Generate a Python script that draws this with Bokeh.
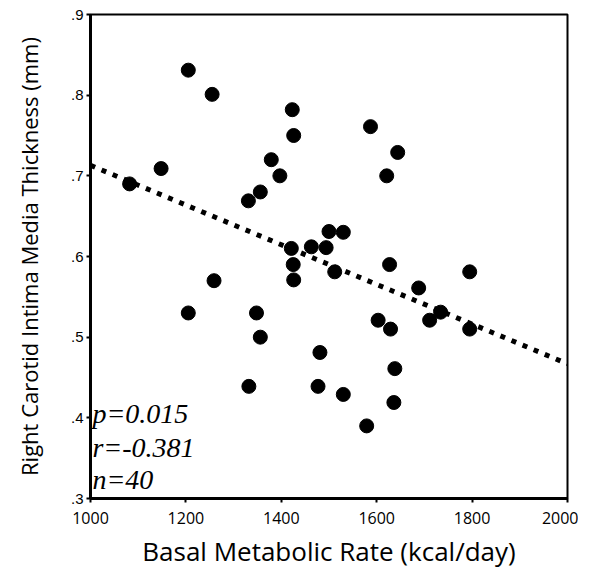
from bokeh.plotting import figure
from bokeh.models import ColumnDataSource, Label, FixedTicker, CustomJSTickFormatter, Range1d
from bokeh.embed import file_html
from bokeh.resources import INLINE

# Data
bmr = [1082, 1148, 1205, 1255, 1259, 1331, 1356, 1379, 1397, 1423,
       1426, 1421, 1425, 1426, 1205, 1348, 1356, 1332, 1587, 1644,
       1621, 1500, 1530, 1463, 1494, 1512, 1627, 1795, 1688, 1734,
       1711, 1795, 1603, 1629, 1481, 1638, 1477, 1530, 1636, 1579]
cimt = [0.690, 0.709, 0.831, 0.801, 0.570, 0.669, 0.680, 0.720, 0.700, 0.782,
        0.750, 0.610, 0.590, 0.571, 0.530, 0.530, 0.500, 0.439, 0.761, 0.729,
        0.700, 0.631, 0.630, 0.612, 0.611, 0.581, 0.590, 0.581, 0.561, 0.531,
        0.521, 0.510, 0.521, 0.510, 0.481, 0.461, 0.439, 0.429, 0.419, 0.390]
fit_x = [1000, 2000]
fit_y = [0.713, 0.467]
x_ticks = [1000, 1200, 1400, 1600, 1800, 2000]
y_ticks = [0.3, 0.4, 0.5, 0.6, 0.7, 0.8, 0.9]
stats = ["p=0.015", "r=-0.381", "n=40"]
stats_y = [0.405, 0.363, 0.324]

p = figure(width=578, height=575, output_backend="svg", toolbar_location=None,
           x_range=Range1d(1000, 2000), y_range=Range1d(0.3, 0.9),
           min_border_left=90, min_border_right=11, min_border_top=14, min_border_bottom=77)
p.grid.visible = False
p.background_fill_color = "white"
p.border_fill_color = "white"
p.outline_line_color = "black"
p.outline_line_width = 2

src = ColumnDataSource(dict(x=bmr, y=cimt))
p.line(fit_x, fit_y, line_color="black", line_width=5, line_dash="5 7")
p.scatter("x", "y", source=src, size=14, color="black")

for ax in (p.xaxis[0], p.yaxis[0]):
    ax.axis_line_width = 3
    ax.major_tick_line_width = 2
    ax.major_tick_out = 4
    ax.major_tick_in = 0
    ax.minor_tick_line_color = None
    ax.major_label_text_color = "black"
    ax.axis_label_text_color = "black"
    ax.axis_label_text_font = "Open Sans"
    ax.axis_label_text_font_style = "normal"

p.xaxis.ticker = FixedTicker(ticks=x_ticks)
p.yaxis.ticker = FixedTicker(ticks=y_ticks)
p.yaxis.formatter = CustomJSTickFormatter(code="return tick.toFixed(1).replace(/^0/, '');")
p.xaxis.major_label_text_font = "Open Sans"
p.xaxis.major_label_text_font_size = "16px"
p.xaxis.major_label_standoff = 9
p.yaxis.major_label_text_font = "Liberation Sans"
p.yaxis.major_label_text_font_size = "15px"
p.yaxis.major_label_standoff = 3

p.xaxis.axis_label = "Basal Metabolic Rate (kcal/day)"
p.xaxis.axis_label_text_font_size = "26px"
p.xaxis.axis_label_standoff = 6
p.yaxis.axis_label = "Right Carotid Intima Media Thickness (mm)"
p.yaxis.axis_label_text_font_size = "22px"
p.yaxis.axis_label_standoff = 24

for t, yy in zip(stats, stats_y):
    p.add_layout(Label(x=1004, y=yy, text=t, text_font="Liberation Serif",
                       text_font_style="italic", text_font_size="28px",
                       text_baseline="middle", text_color="black"))

open("out.html", "w").write(file_html(p, INLINE))
